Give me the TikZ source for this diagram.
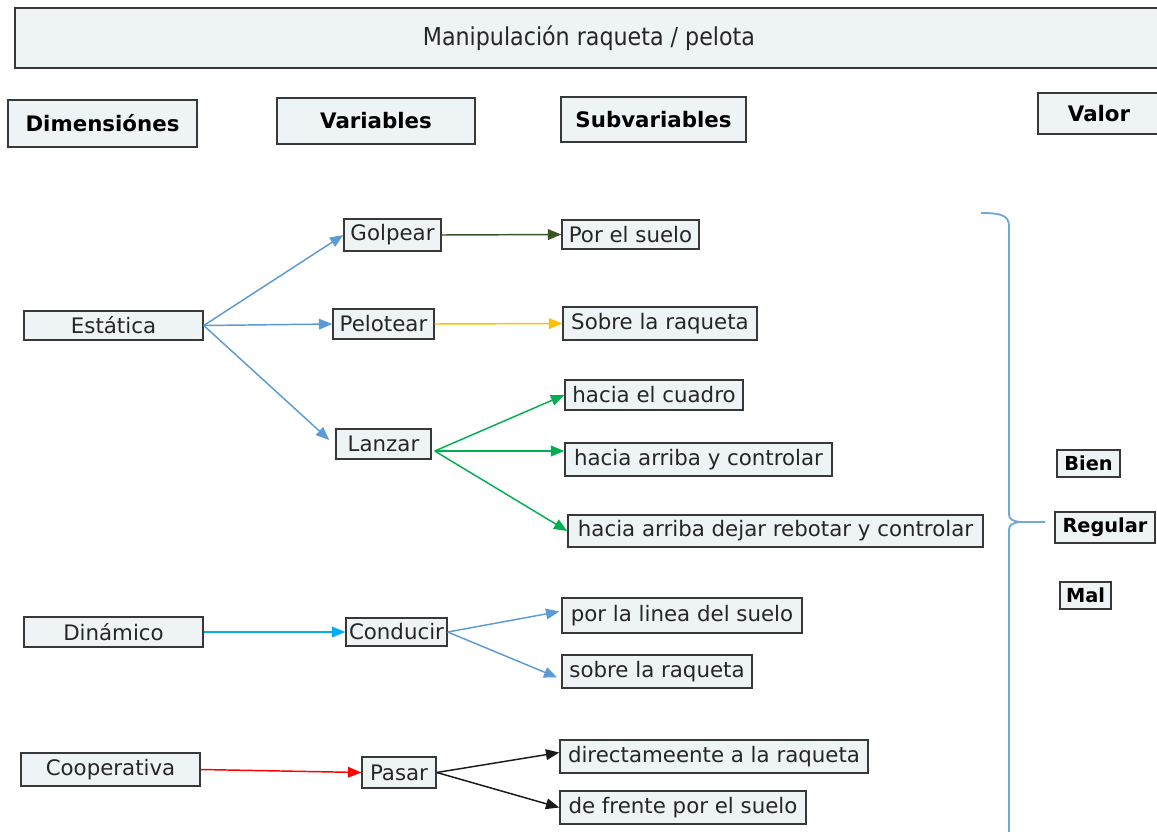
\documentclass[tikz,border=0pt]{standalone}
\usepackage{fontspec}
\setmainfont{DejaVu Sans}
\newfontfamily\condfont{DejaVu Sans Condensed}
\usetikzlibrary{arrows.meta,calc}
\definecolor{boxfill}{HTML}{EEF3F6}
\definecolor{boxline}{HTML}{383838}
\definecolor{txt}{HTML}{262626}
\definecolor{cblue}{HTML}{5B9BD5}
\definecolor{cdkgreen}{HTML}{375623}
\definecolor{cyellow}{HTML}{FFC000}
\definecolor{cgreen}{HTML}{00B050}
\definecolor{ccyan}{HTML}{00B0F0}
\definecolor{cred}{HTML}{FF0000}
\definecolor{cblack}{HTML}{1A1A1A}
\definecolor{cbrace}{HTML}{6FA8DC}
\newcommand\bx[7]{\node[#1,minimum width={(#4-#2)*0.75pt},minimum height={(#5-#3)*0.75pt}] (#6) at ({(#2+#4)/2},{(#3+#5)/2}) {#7};}
\tikzset{
  box/.style={draw=boxline,fill=boxfill,line width=1.1pt,inner sep=0pt,text=txt,font=\fontsize{16pt}{19pt}\selectfont},
  hdr/.style={box,text=black,font=\bfseries\fontsize{16pt}{19pt}\selectfont},
  valbox/.style={box,text=black,font=\bfseries\fontsize{14.5pt}{17pt}\selectfont},
  arr/.style={line width=1.1pt,-{Triangle[length=10pt,width=8pt]}},
  brace/.style={draw=cbrace,line width=1.4pt}
}
\begin{document}
\begin{tikzpicture}[x=0.75pt,y=-0.75pt]
\useasboundingbox (0,0) rectangle (1157,832);
\clip (0,0) rectangle (1157,832);
\bx{box}{15}{8}{1163}{68}{title}{\condfont\fontsize{18.5pt}{21pt}\selectfont Manipulación raqueta / pelota}
\bx{hdr}{8}{100}{197}{147}{hdim}{Dimensiónes}
\bx{hdr}{277}{98}{475}{144}{hvar}{Variables}
\bx{hdr}{561}{97}{746}{142}{hsub}{Subvariables}
\bx{hdr}{1038}{93}{1160}{134}{hval}{Valor}
\bx{box}{344}{219}{441}{251}{gol}{Golpear}
\bx{box}{562}{220}{699}{249}{pes}{Por el suelo}
\bx{box}{24}{311}{203}{340}{est}{Estática}
\bx{box}{333}{309}{434}{339}{pel}{Pelotear}
\bx{box}{563}{307}{757}{340}{sob}{Sobre la raqueta}
\bx{box}{565}{380}{743}{410}{hc}{hacia el cuadro}
\bx{box}{336}{429}{431}{459}{lan}{Lanzar}
\bx{box}{565}{443}{832}{476}{hac}{hacia arriba y controlar}
\bx{box}{568}{515}{983}{547}{had}{hacia arriba dejar rebotar y controlar}
\bx{box}{24}{617}{203}{647}{din}{Dinámico}
\bx{box}{346}{618}{447}{646}{con}{Conducir}
\bx{box}{562}{598}{802}{633}{pls}{por la linea del suelo}
\bx{box}{562}{655}{752}{688}{srq}{sobre la raqueta}
\bx{box}{21}{753}{200}{786}{coo}{Cooperativa}
\bx{box}{362}{757}{436}{788}{pas}{Pasar}
\bx{box}{560}{740}{868}{773}{dar}{directameente a la raqueta}
\bx{box}{560}{791}{806}{824}{dfs}{de frente por el suelo}
\bx{valbox}{1057}{450}{1120}{477}{bien}{Bien}
\bx{valbox}{1055}{512}{1155}{543}{reg}{Regular}
\bx{valbox}{1060}{582}{1111}{609}{mal}{Mal}
% connectors
\draw[arr,cblue] (est.east) -- (gol.west);
\draw[arr,cblue] (est.east) -- (pel.west);
\draw[arr,cblue] (est.east) -- ($(lan.west)+(-6,-4)$);
\draw[arr,cdkgreen] (gol.east) -- (pes.west);
\draw[arr,cyellow] (pel.east) -- (sob.west);
\coordinate (lo) at ($(lan.east)+(3,7)$);
\draw[arr,cgreen] (lo) -- (hc.west);
\draw[arr,cgreen] (lo) -- (lo -| hac.west);
\draw[arr,cgreen] (lo) -- (had.west);
\draw[arr,ccyan] (din.east) -- (con.west);
\draw[arr,cblue] (con.east) -- ($(pls.west)+(-2,-4)$);
\draw[arr,cblue] (con.east) -- ($(srq.west)+(-4,6)$);
\draw[arr,cred] (coo.east) -- (pas.west);
\draw[arr,cblack] (pas.east) -- ($(dar.west)+(0,-4)$);
\draw[arr,cblack] (pas.east) -- (dfs.west);
% brace
\coordinate (bt) at (981,213);
\coordinate (bm) at (1045,522);
\coordinate (bb) at (1009,832);
\draw[brace] (bt) .. controls (1000,213) and (1009,215) .. (1009,226) -- (1009,514)
  .. controls (1009,519) and (1012,521) .. (1020,522) -- (bm);
\draw[brace] (1020,522) .. controls (1012,523) and (1009,525) .. (1009,530) -- (bb);
\end{tikzpicture}
\end{document}
